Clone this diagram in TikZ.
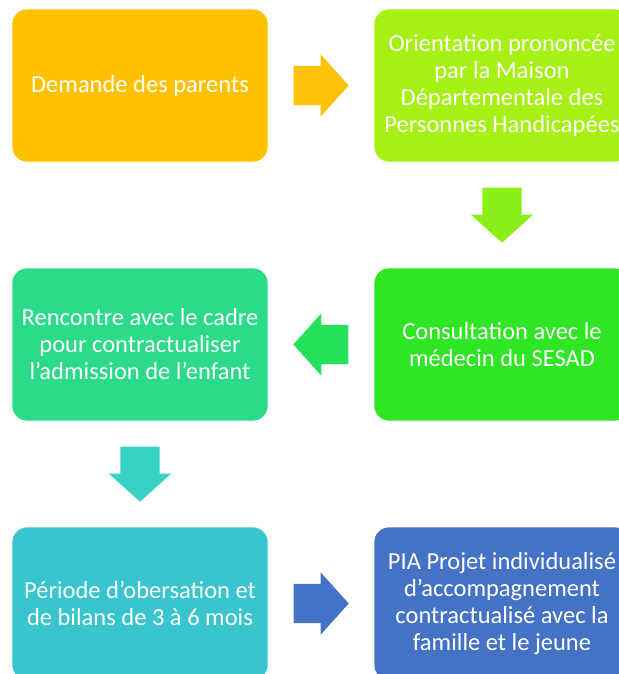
\documentclass[tikz,border=0pt]{standalone}
\usepackage{fontspec}
\setmainfont{Carlito}
\usepackage{tikz}
\usetikzlibrary{arrows,calc,positioning,shapes.arrows}
\definecolor{cdem}{HTML}{FFC000}
\definecolor{corient}{HTML}{A6F113}
\definecolor{cconsult}{HTML}{2EE624}
\definecolor{crencontre}{HTML}{2BDB89}
\definecolor{cperiode}{HTML}{38C5CE}
\definecolor{cpia}{HTML}{4472C4}
\definecolor{cfl1}{HTML}{FFC20A}
\definecolor{cfl2}{HTML}{8CEF19}
\definecolor{cfl3}{HTML}{24E15A}
\definecolor{cfl4}{HTML}{36D3C4}
\tikzset{%
	etape/.style  = {rectangle, rounded corners=15pt, draw=white, line width=0.6pt, minimum width=256pt, minimum height=153pt, inner sep=0pt, align=center, text=white, font=\fontsize{24.5}{27}\selectfont}, % Step box
	fleche/.style = {single arrow, anchor=tail, minimum height=55pt, inner xsep=0pt, inner ysep=19.5pt, single arrow head extend=11.5pt, single arrow tip angle=96}, % Block arrow
}

\begin{document}
\begin{tikzpicture}[x=1pt,y=-1pt,node distance=362pt]
		\useasboundingbox (0,0) rectangle (618,674);
		\node [etape,fill=cdem] (dem) at (140,85.5) {Demande des parents};
		\node [etape,fill=corient] (orient) [right of=dem] {Orientation prononcée\\par la Maison\\Départementale des\\Personnes Handicapées};
		\node [etape,fill=cconsult] (consult) [below of=orient,node distance=259pt] {Consultation avec le\\médecin du SESAD};
		\node [etape,fill=crencontre] (rencontre) [left of=consult] {Rencontre avec le cadre\\pour contractualiser\\l’admission de l’enfant};
		\node [etape,fill=cperiode] (periode) [below of=rencontre,node distance=259pt] {Période d’obersation et\\de bilans de 3 à 6 mois};
		\node [etape,fill=cpia] (pia) [right of=periode] {PIA Projet individualisé\\d’accompagnement\\contractualisé avec la\\famille et le jeune};
		
		\node [fleche,fill=cfl1] (f1) at ($(dem.east)!0.5!(orient.west)+(-27.5,0)$) {};
		\node [fleche,fill=cfl2,rotate=-90] (f2) at ($(orient.south)!0.5!(consult.north)+(0,-27.5)$) {};
		\node [fleche,fill=cfl3,rotate=180] (f3) at ($(consult.west)!0.5!(rencontre.east)+(27.5,0)$) {};
		\node [fleche,fill=cfl4,rotate=-90] (f4) at ($(rencontre.south)!0.5!(periode.north)+(0,-27.5)$) {};
		\node [fleche,fill=cpia] (f5) at ($(periode.east)!0.5!(pia.west)+(-27.5,0)$) {};
		\end{tikzpicture}
\end{document}
